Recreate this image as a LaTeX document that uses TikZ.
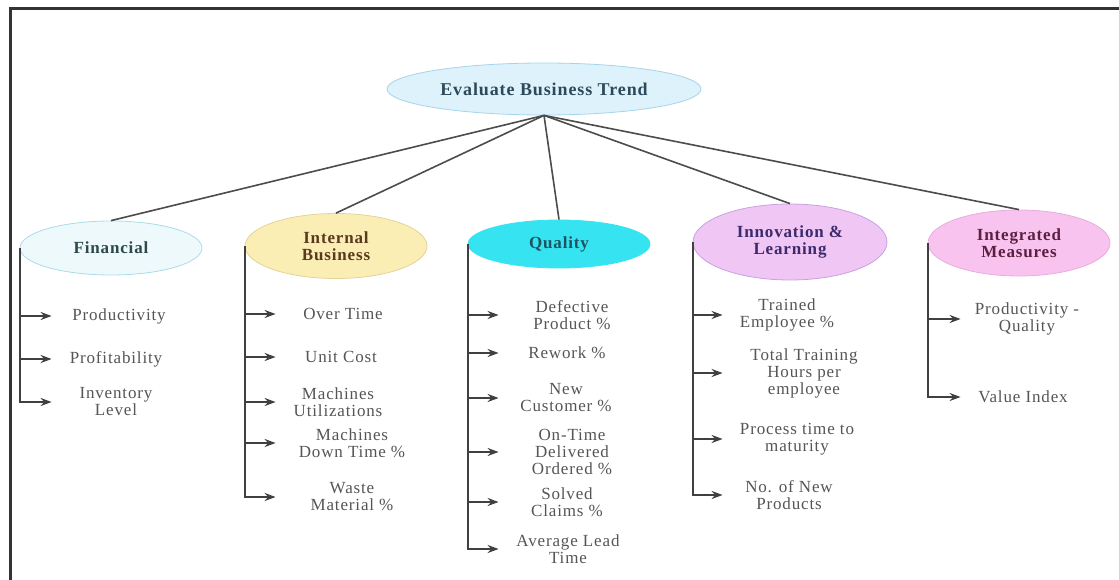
\documentclass[tikz,border=0pt]{standalone}
\usepackage{fontspec}
\setmainfont[LetterSpace=5]{Liberation Serif}
\usetikzlibrary{shapes.geometric,arrows.meta,positioning}

\definecolor{trendfill}{HTML}{DDF2FB}
\definecolor{trendline}{HTML}{A6D4EA}
\definecolor{trendtext}{HTML}{2E4A5A}
\definecolor{finfill}{HTML}{EEF9FC}
\definecolor{finline}{HTML}{AADCE8}
\definecolor{fintext}{HTML}{2C4A4A}
\definecolor{ibfill}{HTML}{FBEEB4}
\definecolor{ibline}{HTML}{E2D49A}
\definecolor{ibtext}{HTML}{5A3A1E}
\definecolor{qualfill}{HTML}{36E3F1}
\definecolor{qualtext}{HTML}{1D5362}
\definecolor{innofill}{HTML}{EFC6F4}
\definecolor{innoline}{HTML}{C8A2E2}
\definecolor{innotext}{HTML}{3C2A6C}
\definecolor{intmfill}{HTML}{F8C4EF}
\definecolor{intmline}{HTML}{E8ADDD}
\definecolor{intmtext}{HTML}{5C1F42}
\definecolor{itemgray}{HTML}{555555}

\begin{document}
\begin{tikzpicture}[x=1pt,y=-1pt,
  >={Stealth[length=11pt,width=8pt]},
  every node/.style={font=\fontsize{17}{17}\selectfont},
  head/.style={ellipse,draw,line width=0.8pt,align=center,inner sep=0pt,
    font=\fontsize{17}{17}\selectfont\bfseries},
  item/.style={text=itemgray,align=center},
  link/.style={draw=black!70,line width=1.6pt},
  list/.style={draw=black!75,line width=2pt}]
\useasboundingbox (0,0) rectangle (1119,580);
\draw[line width=3pt,black!80] (10,580) -- (10,9) -- (1119,9);

% top and the five groups
\node (trend) [head,fill=trendfill,draw=trendline,text=trendtext,minimum width=314,minimum height=52,
  font=\fontsize{18}{18}\selectfont\bfseries] at (544,89) {Evaluate Business Trend};
\node (fin) [head,fill=finfill,draw=finline,text=fintext,minimum width=182,minimum height=54] at (111,248) {Financial};
\node (ib) [head,fill=ibfill,draw=ibline,text=ibtext,minimum width=182,minimum height=65] at (336,246) {Internal\\Business};
\node (qual) [head,fill=qualfill,draw=qualfill,text=qualtext,minimum width=182,minimum height=48] at (559,244) {Quality};
\node (inno) [head,fill=innofill,draw=innoline,text=innotext,minimum width=194,minimum height=76] at (790,242) {Innovation \&\\Learning};
\node (intm) [head,fill=intmfill,draw=intmline,text=intmtext,minimum width=182,minimum height=66] at (1019,243) {Integrated\\Measures};
\path[link] (trend.south) edge (fin.north)
            (trend.south) edge (ib.north)
            (trend.south) edge (qual.north)
            (trend.south) edge (inno.north)
            (trend.south) edge (intm.north);

% Financial
\node (f1) [item] at (119,316) {Productivity};
\node (f2) [item] at (116,359) {Profitability};
\node (f3) [item] at (116,402) {Inventory\\Level};
\foreach \i in {f1,f2} \draw[list,->] (fin.west |- \i) -- +(32,0);
\draw[list,->] (fin.west) -- (fin.west |- f3) -- +(32,0);

% Internal Business
\node (ib1) [item] at (343,314) {Over Time};
\node (ib2) [item] at (341,357) {Unit Cost};
\node (ib3) [item] at (338,402) {Machines\\Utilizations};
\node (ib4) [item] at (352,443) {Machines\\Down Time \%};
\node (ib5) [item] at (352,497) {Waste\\Material \%};
\foreach \i in {ib1,ib2,ib3,ib4} \draw[list,->] (ib.west |- \i) -- +(31,0);
\draw[list,->] (ib.west) -- (ib.west |- ib5) -- +(31,0);

% Quality
\node (q1) [item] at (572,315) {Defective\\Product \%};
\node (q2) [item] at (567,353) {Rework \%};
\node (q3) [item] at (566,398) {New\\Customer \%};
\node (q4) [item] at (572,452) {On-Time\\Delivered\\Ordered \%};
\node (q5) [item] at (567,502) {Solved\\Claims \%};
\node (q6) [item] at (568,549) {Average Lead\\Time};
\foreach \i in {q1,q2,q3,q4,q5} \draw[list,->] (qual.west |- \i) -- +(31,0);
\draw[list,->] (qual.west) -- (qual.west |- q6) -- +(31,0);

% Innovation & Learning
\node (n1) [item] at (787,315) {Trained\\Employee \%};
\node (n2) [item] at (804,373) {Total Training\\Hours per\\employee};
\node (n3) [item] at (797,439) {Process time to\\maturity};
\node (n4) [item] at (789,495) {No. of New\\Products};
\foreach \i in {n1,n2,n3} \draw[list,->] (inno.west |- \i) -- +(30,0);
\draw[list,->] (inno.west) -- (inno.west |- n4) -- +(30,0);

% Integrated Measures
\node (m1) [item] at (1027,319) {Productivity -\\Quality};
\node (m2) [item] at (1023,397) {Value Index};
\draw[list,->] (intm.west |- m1) -- +(33,0);
\draw[list,->] (intm.west) -- (intm.west |- m2) -- +(33,0);
\end{tikzpicture}
\end{document}
